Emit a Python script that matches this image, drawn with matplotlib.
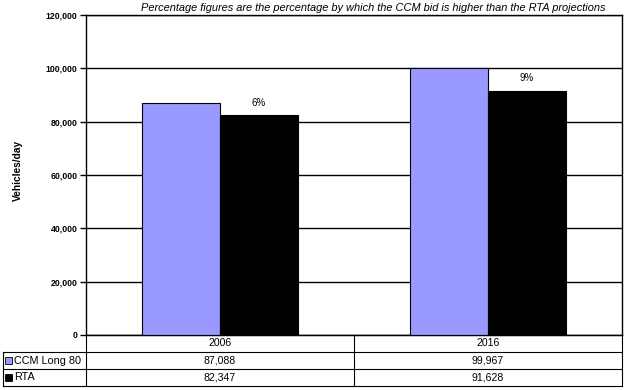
import matplotlib
matplotlib.use("Agg")
import matplotlib.pyplot as plt
from matplotlib.lines import Line2D
from matplotlib.patches import Rectangle

years = ["2006", "2016"]
ccm = [87088, 99967]
rta = [82347, 91628]
series_names = ["CCM Long 80", "RTA"]
colors = ["#9999FF", "#000000"]
yticks = [0, 20000, 40000, 60000, 80000, 100000, 120000]
title = "Percentage figures are the percentage by which the CCM bid is higher than the RTA projections"

plt.rcParams['font.family'] = ['Liberation Sans', 'DejaVu Sans']

W, H = 626, 390
fig = plt.figure(figsize=(W/100, H/100), dpi=100)

def fx(px):
    return px / W

def fy(py):
    return 1 - py / H

L, R, T, B = 86, 622, 15, 335
ax = fig.add_axes([fx(L), fy(B), fx(R) - fx(L), fy(T) - fy(B)])

x = list(range(len(years)))
bw = 0.29
ax.bar([i - bw/2 for i in x], ccm, width=bw, color=colors[0], edgecolor="black", linewidth=0.8, zorder=3)
ax.bar([i + bw/2 for i in x], rta, width=bw, color=colors[1], edgecolor="black", linewidth=0.8, zorder=3)

for i in x:
    pct = (ccm[i] / rta[i] - 1) * 100
    ax.text(i + bw/2, rta[i] + 4700, f"{pct:.0f}%", ha="center", va="center", fontsize=7)

ax.set_xlim(-0.5, len(years) - 0.5)
ax.set_ylim(0, 120000)
ax.set_yticks(yticks)
ax.set_yticklabels([f"{v:,}" for v in yticks], fontsize=6.3, fontweight="bold")
ax.set_xticks([])
ax.yaxis.grid(True, color="black", linewidth=1.0, zorder=0)
ax.tick_params(axis="y", length=4, width=1.0, pad=2)
for s in ax.spines.values():
    s.set_linewidth(1.0)
    s.set_color("black")
ax.set_axisbelow(True)

fig.text(fx(18), fy(170), "Vehicles/day", rotation=90, ha="center", va="center",
         fontsize=7.3, fontweight="bold")
fig.text(fx(373), fy(8), title, ha="center", va="center", fontsize=7.9, style="italic")

# data table
lw = 0.8
rows_y = [335, 352, 369, 386]
tl = 3
mid = (L + R) / 2
def hline(x0, x1, y):
    fig.add_artist(Line2D([fx(x0), fx(x1)], [fy(y), fy(y)], color="black", linewidth=lw))
def vline(xp, y0, y1):
    fig.add_artist(Line2D([fx(xp), fx(xp)], [fy(y0), fy(y1)], color="black", linewidth=lw))

hline(L, R, rows_y[0])
for y in rows_y[1:]:
    hline(tl, R, y)
vline(tl, rows_y[1], rows_y[3])
vline(L, rows_y[0], rows_y[3])
vline(mid, rows_y[0], rows_y[3])
vline(R, rows_y[0], rows_y[3])

col_centers = [(L + mid) / 2, (mid + R) / 2]
for j, yr in enumerate(years):
    fig.text(fx(col_centers[j]), fy((rows_y[0] + rows_y[1]) / 2), yr, ha="center", va="center", fontsize=7.6)
for r, (name, vals, c) in enumerate(zip(series_names, [ccm, rta], colors)):
    yc = (rows_y[r + 1] + rows_y[r + 2]) / 2
    fig.add_artist(Rectangle((fx(5), fy(yc + 3.5)), fx(7), fy(yc - 3.5) - fy(yc + 3.5),
                             facecolor=c, edgecolor="black", linewidth=0.6))
    fig.text(fx(14), fy(yc), name, ha="left", va="center", fontsize=7.8)
    for j, v in enumerate(vals):
        fig.text(fx(col_centers[j]), fy(yc), f"{v:,}", ha="center", va="center", fontsize=7.6)

fig.savefig("out.png", dpi=100)
